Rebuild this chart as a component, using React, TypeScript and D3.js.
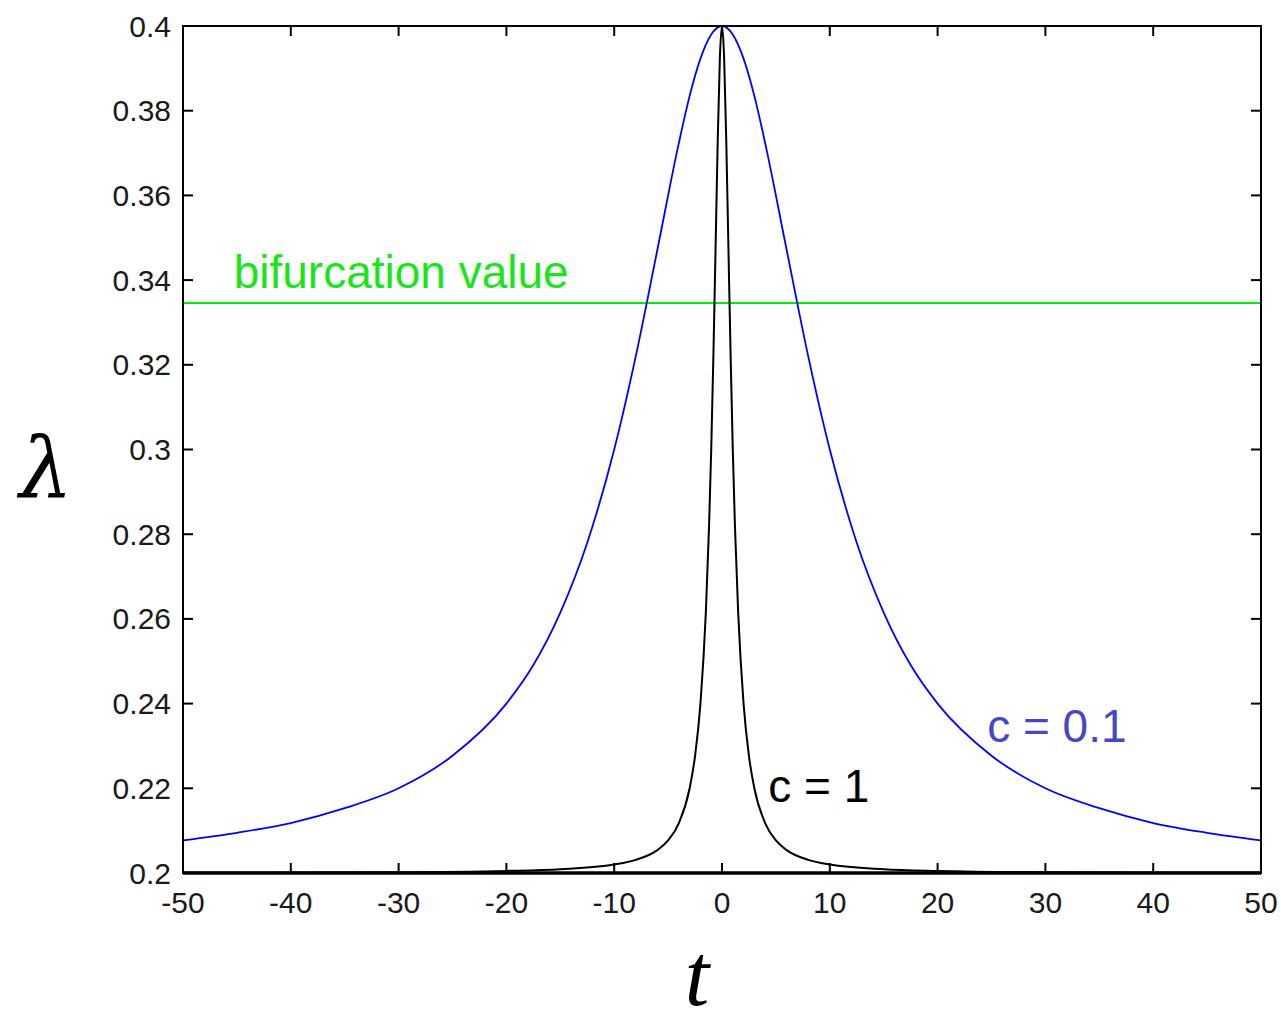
import React, { useEffect, useRef } from 'react';
import * as d3 from 'd3';

// values (symmetric about t = 0)
const blueT = [-50, -45, -40, -35, -30, -25, -20, -17.5, -15, -12.5, -10, -8, -6, -4, -3, -2, -1, 0, 1, 2, 3, 4, 6, 8, 10, 12.5, 15, 17.5, 20, 25, 30, 35, 40, 45, 50];
const blueV = [0.2077, 0.2095, 0.2118, 0.2153, 0.22, 0.2277, 0.24, 0.2491, 0.2615, 0.2780, 0.3, 0.3220, 0.3471, 0.3724, 0.3835, 0.3923, 0.3980, 0.4, 0.3980, 0.3923, 0.3835, 0.3724, 0.3471, 0.3220, 0.3, 0.2780, 0.2615, 0.2491, 0.24, 0.2277, 0.22, 0.2153, 0.2118, 0.2095, 0.2077];

const blackT = [-50, -30, -20, -15, -10, -8, -6, -5, -4, -3, -2.5, -2, -1.5, -1.2, -1, -0.8, -0.6, -0.4, -0.2, 0, 0.2, 0.4, 0.6, 0.8, 1, 1.2, 1.5, 2, 2.5, 3, 4, 5, 6, 8, 10, 15, 20, 30, 50];
const blackV = [0.2001, 0.2002, 0.2005, 0.2009, 0.2020, 0.2031, 0.2054, 0.2077, 0.2118, 0.22, 0.2276, 0.24, 0.2615, 0.2820, 0.3, 0.3220, 0.3471, 0.3724, 0.3923, 0.4, 0.3923, 0.3724, 0.3471, 0.3220, 0.3, 0.2820, 0.2615, 0.24, 0.2276, 0.22, 0.2118, 0.2077, 0.2054, 0.2031, 0.2020, 0.2009, 0.2005, 0.2002, 0.2001];

const bifurcation = 0.3346;

const xTicks = [-50, -40, -30, -20, -10, 0, 10, 20, 30, 40, 50];
const yTicks = [0.2, 0.22, 0.24, 0.26, 0.28, 0.3, 0.32, 0.34, 0.36, 0.38, 0.4];

const W = 1281;
const H = 1026;

export default function App() {
  const ref = useRef<SVGSVGElement>(null);

  useEffect(() => {
    const svg = d3.select(ref.current);
    svg.selectAll('*').remove();

    const margin = { left: 183, right: 20, top: 26, bottom: 153 };
    const innerW = W - margin.left - margin.right;
    const innerH = H - margin.top - margin.bottom;

    const x = d3.scaleLinear().domain([-50, 50]).range([0, innerW]);
    const y = d3.scaleLinear().domain([0.2, 0.4]).range([innerH, 0]);

    const g = svg.append('g').attr('transform', `translate(${margin.left},${margin.top})`);

    const font = 'Arial, "Liberation Sans", sans-serif';

    // green bifurcation line
    g.append('line')
      .attr('x1', 0).attr('x2', innerW)
      .attr('y1', y(bifurcation)).attr('y2', y(bifurcation))
      .attr('stroke', '#00ee00').attr('stroke-width', 2);

    const line = d3.line<[number, number]>()
      .x(d => x(d[0]))
      .y(d => y(d[1]))
      .curve(d3.curveMonotoneX);

    g.append('path')
      .attr('d', line(blueT.map((t, i) => [t, blueV[i]]))!)
      .attr('fill', 'none').attr('stroke', '#0000ff').attr('stroke-width', 1.8);

    g.append('path')
      .attr('d', line(blackT.map((t, i) => [t, blackV[i]]))!)
      .attr('fill', 'none').attr('stroke', '#000').attr('stroke-width', 2);

    // box + ticks (inward, mirrored)
    g.append('rect')
      .attr('x', 0).attr('y', 0).attr('width', innerW).attr('height', innerH)
      .attr('fill', 'none').attr('stroke', '#000').attr('stroke-width', 2);
    g.append('line')
      .attr('x1', 0).attr('x2', innerW).attr('y1', innerH).attr('y2', innerH)
      .attr('stroke', '#000').attr('stroke-width', 3.5);

    const tl = 10;
    xTicks.forEach(t => {
      g.append('line').attr('x1', x(t)).attr('x2', x(t)).attr('y1', innerH).attr('y2', innerH - tl).attr('stroke', '#000').attr('stroke-width', 2);
      g.append('line').attr('x1', x(t)).attr('x2', x(t)).attr('y1', 0).attr('y2', tl).attr('stroke', '#000').attr('stroke-width', 2);
      g.append('text')
        .attr('x', x(t)).attr('y', innerH + 40)
        .attr('text-anchor', 'middle')
        .attr('font-family', font).attr('font-size', 30).attr('fill', '#1a1a1a')
        .text(String(t));
    });
    yTicks.forEach(v => {
      g.append('line').attr('x1', 0).attr('x2', tl).attr('y1', y(v)).attr('y2', y(v)).attr('stroke', '#000').attr('stroke-width', 2);
      g.append('line').attr('x1', innerW).attr('x2', innerW - tl).attr('y1', y(v)).attr('y2', y(v)).attr('stroke', '#000').attr('stroke-width', 2);
      g.append('text')
        .attr('x', -12).attr('y', y(v) + 10.5)
        .attr('text-anchor', 'end')
        .attr('font-family', font).attr('font-size', 30).attr('fill', '#1a1a1a')
        .text(d3.format('~g')(v));
    });

    // annotations
    g.append('text')
      .attr('x', x(-45.3)).attr('y', 288 - margin.top)
      .attr('font-family', font).attr('font-size', 46).attr('fill', '#19e619')
      .text('bifurcation value');
    g.append('text')
      .attr('x', x(24.6)).attr('y', 742 - margin.top)
      .attr('font-family', font).attr('font-size', 46).attr('fill', '#4646c8')
      .text('c = 0.1');
    g.append('text')
      .attr('x', x(4.3)).attr('y', 802 - margin.top)
      .attr('font-family', font).attr('font-size', 46).attr('fill', '#000')
      .text('c = 1');

    // axis labels
    svg.append('text')
      .attr('x', 46).attr('y', 497)
      .attr('text-anchor', 'middle')
      .attr('font-family', '"DejaVu Serif", "Liberation Serif", serif').attr('font-style', 'italic')
      .attr('font-size', 84).attr('fill', '#000')
      .text('λ');
    svg.append('text')
      .attr('x', 697).attr('y', 1005)
      .attr('text-anchor', 'middle')
      .attr('font-family', '"Liberation Serif", serif').attr('font-style', 'italic')
      .attr('font-size', 88).attr('fill', '#000')
      .text('t');
  }, []);

  return <svg ref={ref} width={W} height={H} style={{ position: 'absolute', left: 0, top: 0, background: '#fff' }} />;
}
